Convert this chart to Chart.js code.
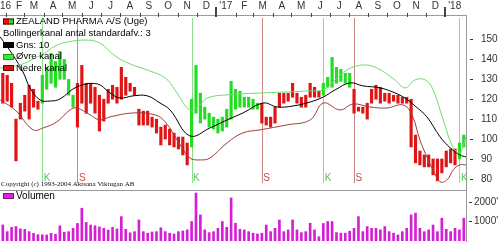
<!DOCTYPE html>
<html><head><meta charset="utf-8">
<script src="https://cdn.jsdelivr.net/npm/chart.js@4.4.1/dist/chart.umd.min.js"></script>
<style>
html,body{margin:0;padding:0;background:#fff;overflow:hidden}
#wrap{position:relative;width:500px;height:242px;background:#fff}
canvas{position:absolute;left:0}
#price{top:0}
#vol{top:191px}
</style></head><body>
<div id="wrap"><canvas id="price" width="500" height="191"></canvas><canvas id="vol" width="500" height="51"></canvas></div>
<script>
// ---------------- DATA ----------------
const title = 'ZEALAND PHARMA A/S (Uge)';
const bandText = 'Bollingerkanal antal standardafv.: 3';
const maLabel = 'Gns: 10';
const upperLabel = 'Øvre kanal';
const lowerLabel = 'Nedre kanal';
const volumeLabel = 'Volumen';
const copyright = 'Copyright (c) 1993-2004 Aktsana Viktugan AB';

const firstWeekDate = [2016, 0, 27];           // date of week index 0
const monthLabels = ["16","F","M","A","M","J","J","A","S","O","N","D",
                     "'17","F","M","A","M","J","J","A","S","O","N","D","'18"];
const priceTicks = [80, 90, 100, 110, 120, 130, 140, 150];
const volumeTicks = [1000, 2000];
const volumeTickLabels = ["1000'", "2000'"];

const high = [133,132,128,110,118,122,127,125,119,132,136,143,139,144,140,130,122,128,137,128,
              128,126,122,120,125,127,126,136,131,128,126,115,114,114,111,110,106,107,105,103,
              101,101,98,120,137,123,116,113,111,110,111,115,129,125,124,121,121,120,118,118,
              111,111,116,123,123,123,128,123,121,122,128,126,124,128,131,141,136,135,133,133,
              125,116,116,118,125,127,126,123,123,122,122,121,121,120,102,94,92,92,90,90,
              90,94,95,95,98,102];
const low  = [118,119,116,89,110,114,110,116,115,118,125,128,126,130,130,122,116,106,118,113,
              118,113,104,109,118,120,118,120,122,124,122,107,107,107,106,103,97,100,97,96,
              95,92,87,96,113,108,110,106,105,103,104,106,110,115,116,116,116,115,115,108,
              107,106,108,116,118,119,121,118,116,116,121,121,121,122,126,126,128,129,128,126,
              113,114,113,110,118,120,118,119,118,119,118,118,118,96,88,87,86,86,82,79,
              83,86,88,87,90,96];
const volume = [825,480,700,740,620,600,480,390,320,320,310,390,350,780,450,480,650,900,1680,950,
                820,780,720,650,560,700,620,1250,600,420,480,1080,480,400,460,480,680,480,400,360,
                480,515,570,1000,2460,1340,570,430,480,650,1000,700,2210,910,600,570,480,400,360,400,
                820,480,650,1080,480,570,1080,570,430,480,910,570,220,900,1000,1000,430,400,400,500,
                650,1250,480,740,650,650,570,740,480,400,310,480,650,1340,1430,650,480,570,820,480,
                1170,600,480,650,570,1170];

const buyWeeks = [9, 43, 73, 104];   // K
const sellWeeks = [17, 59, 80];      // S

// [week, price]
const maPoints = [[-0.6,151.3],[2.3,142.2],[4.6,133.7],[6.2,125.7],[8.5,119.6],[10.8,119.1],[13,120.1],
  [16.9,126.2],[21.5,127.7],[24.4,123.2],[26.7,120.6],[29.7,121.7],[32.9,121.7],[35.8,118.1],[38.1,114.6],
  [42.6,101.6],[47.2,105.6],[51.1,109.6],[54.7,113.1],[59.3,118.1],[62.5,116.1],[66.1,116.6],[70,118.6],
  [73,121.1],[75.7,124.7],[79.1,128.2],[82,126.7],[85.9,125.7],[89.3,123.2],[91.6,120.6],[93.9,116.6],
  [96.6,111.1],[99.6,101.1],[101.9,95.6],[104.1,92],[105.5,91]];
const upperPoints = [[-0.6,135.7],[2.8,136.7],[5.1,138.2],[7.3,140.7],[9.2,142.7],[11.9,146.7],[14.6,148.7],
  [19.2,149.7],[22.1,148.2],
  [25.6,141.7],[29,137.7],[33.5,134.2],[37,130.7],[39.2,124.7],[42.6,114.6],[44.9,117.1],[46.5,120.6],
  [51.1,122.2],[59.3,123.2],[65.4,123.7],[70,124.2],[73,124.7],[75.7,129.7],[78.4,134.7],[82,137.2],[85.2,135.7],
  [89.3,129.7],[91.6,125.7],[93.9,129.7],[96.2,129.7],[98,124.7],[100.3,109.6],[102.6,95.6],[104.1,93],[105.5,101.1]];
const lowerPoints = [[-0.6,119.6],[2.8,114.6],[6.9,104.6],[9.2,105.6],[12.3,108.6],[15.3,114.6],[16.9,115.6],
  [19.9,112.1],[22.1,109.6],[24.4,111.1],[29.7,113.1],[34.7,112.1],[37,108.6],[40.4,97.1],[42.6,90.5],
  [45,89.5],[47.2,90.5],[51.1,98.1],[54.7,103.1],[58.6,104.6],[64.7,107.1],[70,109.6],[73,118.1],
  [76.8,114.6],[79.8,117.6],[83.6,116.1],[87.5,115.6],[91.2,117.1],[93.2,112.1],[95,99.6],[96.9,89.5],
  [98,84.5],[99.6,78.5],[101.2,79.5],[102.6,84.5],[104.1,87],[105.5,87]];

// ---------------- HELPERS ----------------
const FONT = '"Liberation Sans", Arial, sans-serif';
const WEEK = 7 * 864e5;
const week0 = Date.UTC(...firstWeekDate);
const weeks = high.map((_, i) => i);
const signals = buyWeeks.map(w => ({week: w, type: 'K'}))
  .concat(sellWeeks.map(w => ({week: w, type: 'S'})))
  .sort((a, b) => a.week - b.week);
const RED = '#e01414', GREEN = '#22dd22';
function regime(i) {
  let r = 'S';
  signals.forEach(s => { if (s.week <= i) r = s.type; });
  return r;
}
const barColors = weeks.map(i => regime(i) === 'K' ? GREEN : RED);
const XMIN = -0.64, XMAX = 105.5;

function hline(ctx, x1, x2, y) { ctx.beginPath(); ctx.moveTo(x1, y); ctx.lineTo(x2, y); ctx.stroke(); }
function vline(ctx, x, y1, y2) { ctx.beginPath(); ctx.moveTo(x, y1); ctx.lineTo(x, y2); ctx.stroke(); }
function swatch(ctx, x, y, w, h, fill, stroke) {
  ctx.fillStyle = fill; ctx.fillRect(x, y, w, h);
  ctx.strokeStyle = stroke; ctx.lineWidth = 1; ctx.strokeRect(x + 0.5, y + 0.5, w - 1, h - 1);
}
const xScale = {type: 'linear', min: XMIN, max: XMAX, offset: false, display: false,
                grid: {offset: false}};

// ---------------- PRICE CHART ----------------
const pricePanel = {
  id: 'pricePanel',
  beforeDatasetsDraw(chart) {
    const {ctx, chartArea: a, scales: {x}} = chart;
    ctx.save();
    ctx.lineWidth = 1;
    signals.forEach(s => {
      const px = Math.round(x.getPixelForValue(s.week)) + 0.5;
      ctx.strokeStyle = s.type === 'K' ? '#8fdc8f' : '#cc8484';
      vline(ctx, px, a.top + 3, a.bottom - 7);
    });
    ctx.restore();
  },
  afterDraw(chart) {
    const {ctx, chartArea: a, scales: {x, y}} = chart;
    ctx.save();
    // frame
    ctx.strokeStyle = '#9a9a9a'; ctx.lineWidth = 1;
    hline(ctx, 0, a.right + 1, a.top + 0.5);
    vline(ctx, a.right + 0.5, a.top, a.bottom + 1);
    hline(ctx, 0, a.right + 1, a.bottom + 0.5);
    // month axis
    ctx.font = '10px ' + FONT; ctx.fillStyle = '#333'; ctx.textBaseline = 'middle';
    monthLabels.forEach((lab, m) => {
      const start = Date.UTC(2016, m, 1), next = Date.UTC(2016, m + 1, 1);
      const xs = x.getPixelForValue((start - week0) / WEEK);
      const xm = x.getPixelForValue(((start + next) / 2 - week0) / WEEK);
      ctx.strokeStyle = '#444';
      if (m % 12 === 0) {
        if (xs > 0) { ctx.lineWidth = 2; vline(ctx, Math.round(xs), 7, a.top + 2); }
      } else {
        ctx.lineWidth = 1; vline(ctx, Math.round(xs) + 0.5, a.top - 2, a.top + 2);
      }
      if (xm < 8) { ctx.textAlign = 'left'; ctx.fillText(lab, 0, 6); }
      else { ctx.textAlign = 'center'; ctx.fillText(lab, Math.max(xm, 19), 6); }
    });
    // right axis
    ctx.lineWidth = 1; ctx.strokeStyle = '#333'; ctx.textAlign = 'left';
    priceTicks.forEach(v => {
      const py = Math.round(y.getPixelForValue(v));
      hline(ctx, 470, 473, py + 0.5);
      ctx.fillText(String(v), 481, py + 0.5);
    });
    // K / S labels
    signals.forEach(s => {
      const px = x.getPixelForValue(s.week);
      ctx.fillStyle = s.type === 'K' ? '#55c855' : '#b85050';
      ctx.fillText(s.type, px + 1.5, a.bottom - 12);
    });
    // copyright
    ctx.fillStyle = '#111'; ctx.font = '7px "Liberation Serif", "Times New Roman", serif';
    ctx.fillText(copyright, 1, a.bottom - 6);
    // legend
    ctx.font = '9.5px ' + FONT; ctx.fillStyle = '#000';
    const rows = [title, bandText, maLabel, upperLabel, lowerLabel];
    rows.forEach((t, k) => {
      const cy = 21.5 + k * 11.7;
      if (k === 0) {
        ctx.fillStyle = RED; ctx.fillRect(3, cy - 3, 6, 6);
        ctx.fillStyle = GREEN; ctx.fillRect(9, cy - 3, 5, 6);
        ctx.strokeStyle = '#600'; ctx.strokeRect(3.5, cy - 2.5, 10, 5);
      } else if (k === 2) swatch(ctx, 3, Math.round(cy - 3), 11, 6, '#000', '#000');
      else if (k === 3) swatch(ctx, 3, Math.round(cy - 3), 11, 6, '#33ee33', '#119911');
      else if (k === 4) swatch(ctx, 3, Math.round(cy - 3), 11, 6, '#dd1111', '#770000');
      ctx.fillStyle = '#000';
      ctx.fillText(t, k === 1 ? 3 : 16, cy);
    });
    ctx.restore();
  }
};

new Chart(document.getElementById('price'), {
  type: 'bar',
  data: {
    datasets: [
      {type: 'line', label: upperLabel, data: upperPoints.map(([w, v]) => ({x: w, y: v})),
       borderColor: '#6ddc6d', borderWidth: 1, pointRadius: 0, tension: 0.4, order: 1},
      {type: 'line', label: lowerLabel, data: lowerPoints.map(([w, v]) => ({x: w, y: v})),
       borderColor: '#a23a3a', borderWidth: 1, pointRadius: 0, tension: 0.4, order: 1},
      {type: 'line', label: maLabel, data: maPoints.map(([w, v]) => ({x: w, y: v})),
       borderColor: '#000', borderWidth: 1, pointRadius: 0, tension: 0.4, order: 1},
      {type: 'bar', label: title, data: weeks.map(i => ({x: i, y: [low[i], high[i]]})),
       backgroundColor: barColors, borderWidth: 0, barThickness: 2.5, order: 2}
    ]
  },
  options: {
    responsive: false, animation: false, devicePixelRatio: 1,
    layout: {padding: {left: 0, top: 15, right: 34, bottom: 1}},
    plugins: {legend: {display: false}, tooltip: {enabled: false}},
    scales: {
      x: xScale,
      y: {type: 'linear', min: 74.4, max: 162.3, display: false}
    }
  },
  plugins: [pricePanel]
});

// ---------------- VOLUME CHART ----------------
const volPanel = {
  id: 'volPanel',
  afterDraw(chart) {
    const {ctx, chartArea: a, scales: {y}} = chart;
    ctx.save();
    ctx.strokeStyle = '#9a9a9a'; ctx.lineWidth = 1;
    vline(ctx, a.right + 0.5, 0, chart.height);
    ctx.strokeStyle = '#333'; ctx.fillStyle = '#333';
    ctx.font = '10px ' + FONT; ctx.textBaseline = 'middle'; ctx.textAlign = 'left';
    volumeTicks.forEach((v, k) => {
      const py = Math.round(y.getPixelForValue(v));
      hline(ctx, 469, 472, py + 0.5);
      ctx.fillText(volumeTickLabels[k], 474, py + 0.5);
    });
    swatch(ctx, 3, 2, 11, 6, '#dd22dd', '#881188');
    ctx.fillStyle = '#000'; ctx.font = '10px ' + FONT;
    ctx.fillText(volumeLabel, 16, 5);
    ctx.restore();
  }
};

new Chart(document.getElementById('vol'), {
  type: 'bar',
  data: {
    datasets: [{label: volumeLabel, data: weeks.map(i => ({x: i, y: volume[i]})),
      backgroundColor: '#d51fd5', borderWidth: 0, barThickness: 2}]
  },
  options: {
    responsive: false, animation: false, devicePixelRatio: 1,
    layout: {padding: {left: 0, top: 0, right: 34, bottom: 1}},
    plugins: {legend: {display: false}, tooltip: {enabled: false}},
    scales: {
      x: Object.assign({}, xScale),
      y: {type: 'linear', min: 0, max: 2564, display: false}
    }
  },
  plugins: [volPanel]
});
</script></body></html>
